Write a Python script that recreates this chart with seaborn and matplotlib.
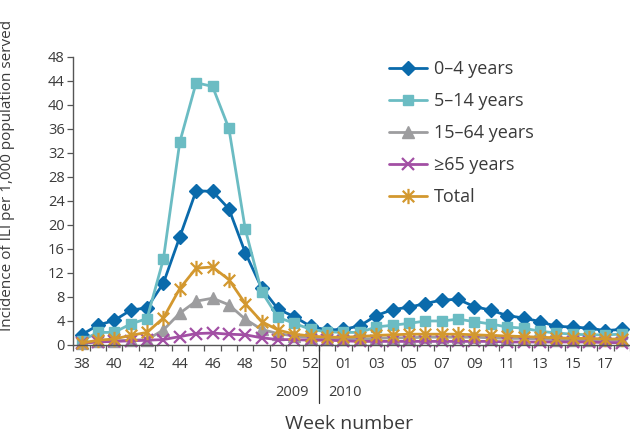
import numpy as np
import pandas as pd
import matplotlib
matplotlib.use("Agg")
import matplotlib.pyplot as plt
import matplotlib.transforms as mtransforms
from matplotlib.path import Path
import seaborn as sns

# Data: weekly ILI incidence per 1,000 population served, week 38/2009 to week 18/2010
weeks = ["38", "39", "40", "41", "42", "43", "44", "45", "46", "47", "48", "49",
         "50", "51", "52", "53", "01", "02", "03", "04", "05", "06", "07", "08",
         "09", "10", "11", "12", "13", "14", "15", "16", "17", "18"]

age_0_4 = [1.7, 3.3, 4.1, 5.8, 6.2, 10.3, 18.0, 25.7, 25.6, 22.7, 15.4, 9.5,
           6.0, 4.7, 3.1, 2.5, 2.6, 3.2, 4.9, 5.9, 6.3, 6.9, 7.5, 7.6,
           6.4, 5.8, 4.9, 4.5, 3.9, 3.1, 3.0, 2.8, 2.4, 2.6]
age_5_14 = [0.7, 2.1, 2.1, 3.5, 4.4, 14.3, 33.8, 43.7, 43.1, 36.1, 19.3, 8.9,
            4.6, 3.6, 2.6, 2.2, 2.1, 2.1, 3.0, 3.3, 3.6, 4.0, 4.0, 4.3,
            3.9, 3.5, 3.0, 2.8, 2.3, 2.0, 1.8, 1.7, 1.7, 1.8]
age_15_64 = [0.4, 0.6, 0.7, 0.8, 0.9, 2.5, 5.3, 7.3, 7.8, 6.7, 4.3, 2.6,
             1.9, 1.5, 1.2, 1.0, 1.0, 1.0, 1.1, 1.2, 1.2, 1.3, 1.3, 1.3,
             1.3, 1.2, 1.1, 1.1, 1.0, 0.9, 0.9, 0.8, 0.8, 0.8]
age_65 = [0.3, 0.5, 0.6, 0.7, 0.8, 0.9, 1.4, 1.9, 2.0, 1.8, 1.7, 1.2,
          0.9, 0.9, 0.8, 0.8, 0.7, 0.6, 0.6, 0.6, 0.6, 0.6, 0.6, 0.6,
          0.6, 0.6, 0.5, 0.5, 0.5, 0.5, 0.5, 0.5, 0.4, 0.4]
total = [0.3, 0.8, 1.0, 1.6, 2.1, 4.5, 9.4, 12.8, 13.0, 10.9, 6.9, 3.9,
         2.5, 1.8, 1.5, 1.3, 1.3, 1.4, 1.6, 1.7, 1.8, 1.8, 1.8, 1.8,
         1.7, 1.6, 1.5, 1.4, 1.3, 1.2, 1.1, 1.1, 1.0, 1.0]

series_names = ["0\u20134 years", "5\u201314 years", "15\u201364 years", "\u226565 years", "Total"]
series_values = [age_0_4, age_5_14, age_15_64, age_65, total]

# asterisk marker (vertical bar + X)
asterisk = Path([(0, -1), (0, 1), (-0.75, -0.75), (0.75, 0.75), (-0.75, 0.75), (0.75, -0.75)],
                [Path.MOVETO, Path.LINETO, Path.MOVETO, Path.LINETO, Path.MOVETO, Path.LINETO])

styles = [
    dict(color="#0a6aab", marker="D", ms=7),
    dict(color="#6bbcc3", marker="s", ms=7),
    dict(color="#9d9d9f", marker="^", ms=8),
    dict(color="#a24fa4", marker="x", ms=8, mew=1.6),
    dict(color="#d3982f", marker=asterisk, ms=11, mew=1.6),
]

sns.set_style("ticks")
plt.rcParams["font.family"] = ["Open Sans", "DejaVu Sans"]
text_col = "#3a3a3a"

fig = plt.figure(figsize=(6.3, 4.32), dpi=100)
ax = fig.add_axes([0.1159, 0.2014, 0.8841, 0.6667])

x = np.arange(len(weeks))
for name, vals, st in zip(series_names, series_values, styles):
    df = pd.DataFrame({"idx": x, "value": vals})
    sns.lineplot(data=df, x="idx", y="value", ax=ax, label=name,
                 color=st["color"], lw=2.0, marker=st["marker"],
                 markersize=st["ms"], markeredgecolor=st["color"],
                 markerfacecolor=st["color"], markeredgewidth=st.get("mew", 1.0),
                 clip_on=False)

ax.set_xlim(-0.52, 33.03)
ax.set_ylim(0, 48)
ax.set_yticks(np.arange(0, 49, 4))
for s in ["top", "right"]:
    ax.spines[s].set_visible(False)
for s in ["left", "bottom"]:
    ax.spines[s].set_color("#555555")
    ax.spines[s].set_linewidth(1.0)

# labels every other week, tick marks between categories
label_idx = list(range(0, len(weeks) - 1, 2))
ax.set_xticks(label_idx)
ax.set_xticklabels([weeks[i] for i in label_idx])
ax.set_xticks(np.arange(-0.5, len(weeks), 1), minor=True)
ax.tick_params(axis="x", which="major", length=0, pad=9, labelsize=10.5, colors=text_col)
ax.tick_params(axis="x", which="minor", length=4, width=0.9, color="#555555", direction="out")
ax.tick_params(axis="y", length=4, width=0.9, color="#555555", pad=2, labelsize=10.5, labelcolor=text_col)

ax.set_xlabel("")
ax.set_ylabel("Incidence of ILI per 1,000 population served", fontsize=11, color=text_col)
ax.yaxis.set_label_coords(-0.104, 0.587)

# year divider
trans = mtransforms.blended_transform_factory(ax.transData, ax.transAxes)
ax.plot([14.5, 14.5], [0, -0.2], transform=trans, clip_on=False, color="#333333", lw=0.9)
ax.annotate("2009", xy=(14.5, 0), xycoords=trans, xytext=(-7, -34), textcoords="offset points",
            ha="right", va="center", fontsize=10.5, color=text_col)
ax.annotate("2010", xy=(14.5, 0), xycoords=trans, xytext=(7, -34), textcoords="offset points",
            ha="left", va="center", fontsize=10.5, color=text_col)

fig.text(349 / 630, 1 - 424 / 432, "Week number", ha="center", va="center",
         fontsize=14, color=text_col)

ax.legend_.remove()
handles, labels = ax.get_legend_handles_labels()
fig.legend(handles, labels, loc="upper left", bbox_to_anchor=(0.592, 0.899), frameon=False,
           fontsize=13, labelspacing=0.78, handlelength=2.1, handletextpad=0.4,
           labelcolor=text_col)

fig.savefig("out.png", dpi=100, facecolor="white")
